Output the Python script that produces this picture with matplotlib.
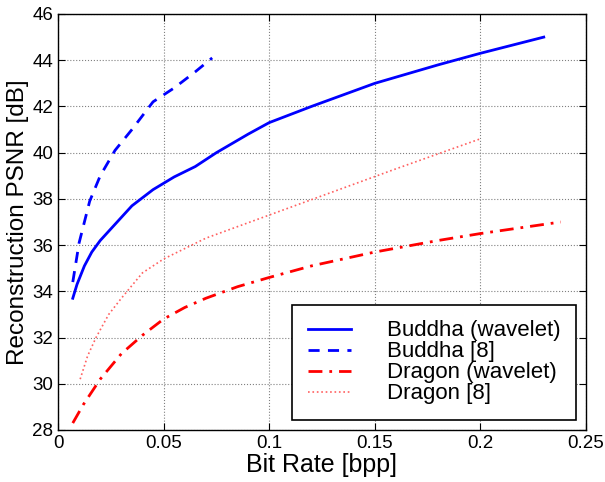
import matplotlib
matplotlib.use('Agg')
import matplotlib.pyplot as plt

plt.rcParams['font.family'] = ['Liberation Sans', 'DejaVu Sans']

# Buddha (wavelet)
bw_x = [0.007, 0.009, 0.0125, 0.016, 0.020, 0.027, 0.035, 0.045, 0.055, 0.065, 0.075, 0.090,
        0.100, 0.120, 0.150, 0.180, 0.200, 0.230]
bw_y = [33.7, 34.3, 35.1, 35.7, 36.2, 36.9, 37.7, 38.4, 38.95, 39.4, 40.0, 40.8,
        41.3, 42.0, 43.0, 43.8, 44.3, 45.0]

# Buddha [8]
b8_x = [0.007, 0.010, 0.015, 0.020, 0.027, 0.035, 0.045, 0.055, 0.065, 0.073]
b8_y = [34.4, 36.1, 37.9, 39.0, 40.1, 41.0, 42.2, 42.8, 43.5, 44.1]

# Dragon (wavelet)
dw_x = [0.007, 0.012, 0.020, 0.030, 0.040, 0.050, 0.060, 0.070, 0.085, 0.100,
        0.120, 0.150, 0.180, 0.200, 0.238]
dw_y = [28.3, 29.1, 30.2, 31.3, 32.1, 32.8, 33.3, 33.7, 34.2, 34.6,
        35.1, 35.7, 36.2, 36.5, 37.0]

# Dragon [8]
d8_x = [0.0105, 0.014, 0.018, 0.024, 0.030, 0.040, 0.050, 0.070, 0.100, 0.130, 0.160, 0.200]
d8_y = [30.2, 31.2, 32.0, 33.0, 33.7, 34.8, 35.4, 36.3, 37.3, 38.3, 39.3, 40.6]

fig = plt.figure(figsize=(6.05, 4.82), dpi=100)
ax = fig.add_axes([58 / 605, 52 / 482, 528 / 605, 416 / 482])

ax.plot(bw_x, bw_y, '-', color='blue', lw=2, label='Buddha (wavelet)')
ax.plot(b8_x, b8_y, '--', color='blue', lw=2, dashes=(4, 3), label='Buddha [8]')
ax.plot(dw_x, dw_y, '-.', color='red', lw=2, dashes=(5, 2.5, 1, 2.5), label='Dragon (wavelet)')
ax.plot(d8_x, d8_y, ':', color='#ff6060', lw=1.2, label='Dragon [8]')

ax.set_xlim(0, 0.25)
ax.set_ylim(28, 46)
ax.set_xticks([0, 0.05, 0.1, 0.15, 0.2, 0.25])
ax.set_xticklabels(['0', '0.05', '0.1', '0.15', '0.2', '0.25'])
ax.set_yticks(range(28, 47, 2))
ax.grid(True, linestyle=':', color='gray', lw=0.8)
ax.tick_params(direction='in', labelsize=13.5, length=5, top=True, right=True)
for s in ax.spines.values():
    s.set_linewidth(1)

ax.set_xlabel('Bit Rate [bpp]', fontsize=18, labelpad=1)
ax.set_ylabel('Reconstruction PSNR [dB]', fontsize=17.5, labelpad=2)

leg = ax.legend(loc='lower right', fontsize=16, fancybox=False, edgecolor='black',
                framealpha=1, borderaxespad=0.45, handlelength=1.95, handletextpad=1.6,
                labelspacing=0.0, borderpad=0.7)
leg.get_frame().set_linewidth(1.2)

fig.savefig('out.png', dpi=100)
